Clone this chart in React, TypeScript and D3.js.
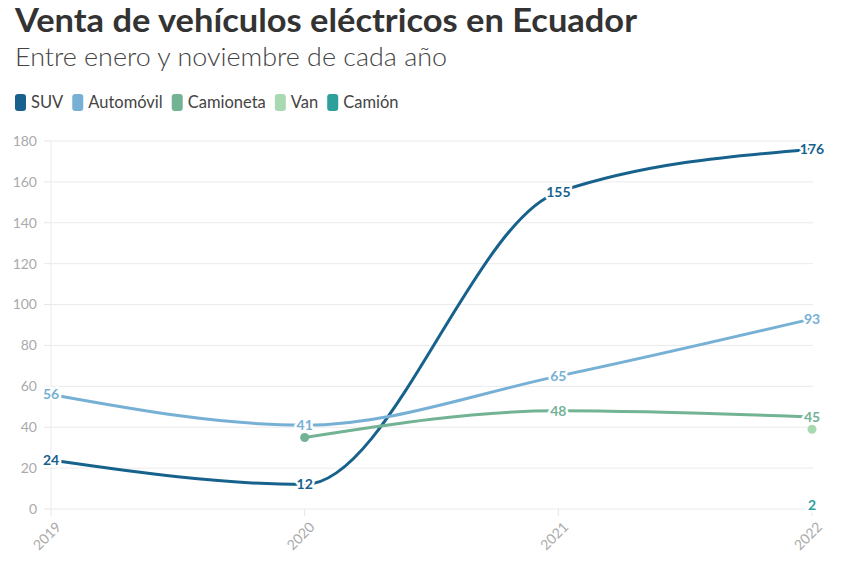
import React, { useEffect, useRef } from "react";
import * as d3 from "d3";

const years = ["2019", "2020", "2021", "2022"];
const seriesNames = ["SUV", "Automóvil", "Camioneta", "Van", "Camión"];
const colors = ["#17628c", "#76b0d5", "#72b394", "#a9d9b3", "#2e9f9b"];
const suv: (number | null)[] = [24, 12, 155, 176];
const automovil: (number | null)[] = [56, 41, 65, 93];
const camioneta: (number | null)[] = [null, 35, 48, 45];
const van: (number | null)[] = [null, null, null, 39];
const camion: (number | null)[] = [null, null, null, 2];
const yTicks = [0, 20, 40, 60, 80, 100, 120, 140, 160, 180];
// which points show a value label
const showLabels = [
  [true, true, true, true],
  [true, true, true, true],
  [false, false, true, true],
  [false, false, false, false],
  [false, false, false, true],
];

export default function App() {
  const ref = useRef<SVGSVGElement>(null);
  useEffect(() => {
    const svg = d3.select(ref.current);
    svg.selectAll("*").remove();
    const font = "Lato, 'Source Sans Pro', sans-serif";
    const W = 854, H = 562;
    const left = 51, right = 812, top = 141, bottom = 509;
    const x = d3.scalePoint<string>().domain(years).range([left, right]);
    const y = d3.scaleLinear().domain([0, 180]).range([bottom, top]);

    svg.append("rect").attr("width", W).attr("height", H).attr("fill", "#fff");

    svg.append("text").attr("x", 15).attr("y", 32).attr("font-family", font)
      .attr("font-weight", 700).attr("font-size", 33).attr("fill", "#333")
      .attr("textLength", 622).attr("lengthAdjust", "spacingAndGlyphs")
      .text("Venta de vehículos eléctricos en Ecuador");
    svg.append("text").attr("x", 15).attr("y", 66).attr("font-family", font)
      .attr("font-weight", 300).attr("font-size", 26).attr("fill", "#444")
      .attr("textLength", 432).attr("lengthAdjust", "spacingAndGlyphs")
      .text("Entre enero y noviembre de cada año");

    // legend
    let lx = 15;
    seriesNames.forEach((n, i) => {
      const g = svg.append("g");
      g.append("rect").attr("x", lx).attr("y", 94).attr("width", 11).attr("height", 17)
        .attr("rx", 3).attr("fill", colors[i]);
      const t = g.append("text").attr("x", lx + 16).attr("y", 108).attr("font-family", font)
        .attr("font-size", 16.5).attr("fill", "#444").text(n);
      const w = (t.node() as SVGTextElement).getComputedTextLength();
      lx += 16 + w + 9;
    });

    // grid
    yTicks.forEach((v) => {
      svg.append("line").attr("x1", left).attr("x2", right + 1).attr("y1", y(v)).attr("y2", y(v))
        .attr("stroke", "#ebebee").attr("stroke-width", 1);
      svg.append("line").attr("x1", left - 7).attr("x2", left).attr("y1", y(v)).attr("y2", y(v))
        .attr("stroke", "#e6e6ea");
      svg.append("text").attr("x", 37).attr("y", y(v)).attr("dy", "0.35em").attr("text-anchor", "end")
        .attr("font-family", font).attr("font-size", 14).attr("fill", "#aaa").text(String(v));
    });
    svg.append("line").attr("x1", left).attr("x2", left).attr("y1", top).attr("y2", bottom)
      .attr("stroke", "#ebebee");
    years.forEach((yr) => {
      const px = x(yr)!;
      svg.append("line").attr("x1", px).attr("x2", px).attr("y1", bottom).attr("y2", bottom + 7)
        .attr("stroke", "#e6e6ea");
      svg.append("text").attr("transform", `translate(${px + 4},${bottom + 12}) rotate(-45)`)
        .attr("text-anchor", "end").attr("dy", "0.7em").attr("font-family", font)
        .attr("font-size", 14).attr("fill", "#aaa").text(yr);
    });

    const all = [suv, automovil, camioneta, van, camion];
    const line = d3.line<[string, number | null]>()
      .defined((d) => d[1] !== null)
      .x((d) => x(d[0])!)
      .y((d) => y(d[1] as number))
      .curve(d3.curveMonotoneX);

    all.forEach((vals, i) => {
      const pts = years.map((yr, j) => [yr, vals[j]] as [string, number | null]);
      const valid = pts.filter((p) => p[1] !== null);
      if (valid.length > 1) {
        svg.append("path").attr("d", line(pts) || "").attr("fill", "none")
          .attr("stroke", colors[i]).attr("stroke-width", 3).attr("stroke-linecap", "round");
      }
      pts.forEach((p, j) => {
        if (p[1] === null) return;
        if (!showLabels[i][j]) {
          svg.append("circle").attr("cx", x(p[0])!).attr("cy", y(p[1])).attr("r", 4.5)
            .attr("fill", colors[i]);
        }
      });
    });
    // labels on top
    all.forEach((vals, i) => {
      years.forEach((yr, j) => {
        const v = vals[j];
        if (v === null || !showLabels[i][j]) return;
        svg.append("text").attr("x", x(yr)!).attr("y", y(v)).attr("dy", "0.35em")
          .attr("text-anchor", "middle").attr("font-family", font).attr("font-weight", 700)
          .attr("font-size", 14).attr("fill", colors[i]).attr("stroke", "#fff")
          .attr("stroke-width", 5).attr("stroke-linejoin", "round").attr("paint-order", "stroke")
          .text(String(v));
      });
    });
  }, []);
  return <svg ref={ref} width={854} height={562} style={{ display: "block", margin: "-8px" }} />;
}
